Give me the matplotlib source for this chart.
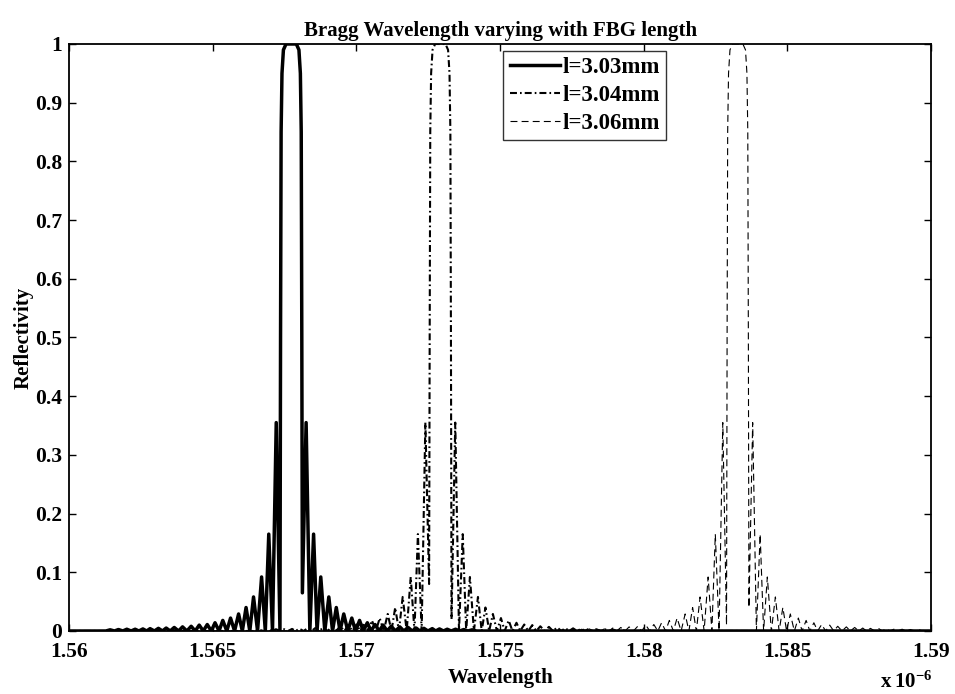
import matplotlib
matplotlib.use('Agg')
import matplotlib.pyplot as plt

plt.rcParams['font.family'] = ['Liberation Serif', 'DejaVu Serif']
plt.rcParams['font.weight'] = 'bold'
plt.rcParams['axes.labelweight'] = 'bold'
plt.rcParams['axes.titleweight'] = 'bold'
plt.rcParams['mathtext.fontset'] = 'custom'
plt.rcParams['mathtext.rm'] = 'Liberation Serif:bold'
plt.rcParams['mathtext.bf'] = 'Liberation Serif:bold'
plt.rcParams['lines.scale_dashes'] = False

# grating lengths and Bragg wavelengths (x 1e-6 m)
labels = ['l=3.03mm', 'l=3.04mm', 'l=3.06mm']
centers = [1.56773, 1.57292, 1.58327]
# reflectivity where the main lobe edge stops (left, right) - sampling
edge_floor = [(0.0, 0.065), (0.08, 0.02), (0.01, 0.04)]

# main lobe shape, offset from centre in nm
main_nm = [-0.37, -0.35, -0.32, -0.27, -0.18, 0.0, 0.18, 0.27, 0.32, 0.35, 0.37]
main_r = [0.5, 0.85, 0.95, 0.99, 1.0, 1.0, 1.0, 0.99, 0.95, 0.85, 0.5]

# side lobes (same on both sides), offset from centre in nm
lobe_pk_nm = [0.52, 0.78, 1.03, 1.31, 1.57, 1.83, 2.11, 2.38, 2.65, 2.92, 3.20,
              3.48, 3.78, 4.07, 4.35, 4.62, 4.91, 5.16, 5.43, 5.72, 6.01, 6.30]
lobe_r = [0.355, 0.165, 0.092, 0.058, 0.040, 0.029, 0.022, 0.018, 0.014, 0.011, 0.010,
          0.008, 0.007, 0.006, 0.005, 0.0045, 0.004, 0.0035, 0.003, 0.003, 0.0025, 0.002]
lobe_null_nm = [0.39, 0.65, 0.90, 1.17, 1.44, 1.70, 1.97, 2.24, 2.51, 2.78, 3.06, 3.34,
                3.63, 3.92, 4.21, 4.48, 4.76, 5.03, 5.30, 5.57, 5.86, 6.15, 6.45]

x_min, x_max = 1.56, 1.59


def spectrum(c, floors):
    xs, ys = [x_min], [0.0]
    n = len(lobe_pk_nm)
    # left side, far to near
    for k in range(n - 1, -1, -1):
        xs.append(c - lobe_null_nm[k + 1] * 1e-3); ys.append(0.0)
        xs.append(c - lobe_pk_nm[k] * 1e-3); ys.append(lobe_r[k])
    xs.append(c - lobe_null_nm[0] * 1e-3); ys.append(floors[0])
    for o, r in zip(main_nm, main_r):
        xs.append(c + o * 1e-3); ys.append(r)
    xs.append(c + lobe_null_nm[0] * 1e-3); ys.append(floors[1])
    for k in range(n):
        xs.append(c + lobe_pk_nm[k] * 1e-3); ys.append(lobe_r[k])
        xs.append(c + lobe_null_nm[k + 1] * 1e-3); ys.append(0.0)
    xs.append(x_max); ys.append(0.0)
    return xs, ys


styles = [dict(lw=2.5, linestyle='-'),
          dict(lw=1.5, dashes=(5, 2.2, 1.2, 2.2)),
          dict(lw=0.8, dashes=(5, 3))]

fig = plt.figure(figsize=(9.55, 6.94), dpi=100)
ax = fig.add_axes([0.0723, 0.0908, 0.9027, 0.8458])

for c, fl, lab, st in zip(centers, edge_floor, labels, styles):
    xs, ys = spectrum(c, fl)
    ax.plot(xs, ys, color='black', label=lab, **st)

ax.set_xlim(x_min, x_max)
ax.set_ylim(0, 1)
xt = [1.56, 1.565, 1.57, 1.575, 1.58, 1.585, 1.59]
ax.set_xticks(xt)
ax.set_xticklabels(['%g' % v for v in xt])
yt = [i / 10 for i in range(11)]
ax.set_yticks(yt)
ax.set_yticklabels(['%g' % v for v in yt])
ax.tick_params(direction='in', top=True, right=True, length=5, width=1, labelsize=15.5)
ax.tick_params(axis='x', pad=8)
ax.tick_params(axis='y', pad=5)
for s in ax.spines.values():
    s.set_linewidth(1.3)

ax.set_title('Bragg Wavelength varying with FBG length', fontsize=15, pad=6)
ax.set_xlabel('Wavelength', fontsize=15, labelpad=4)
ax.set_ylabel('Reflectivity', fontsize=15, labelpad=1)
fig.text(0.976, 0.002, r'$\mathrm{x\,10^{-6}}$', ha='right', va='bottom', fontsize=15)

leg = ax.legend(loc='upper left', bbox_to_anchor=(0.5035, 0.9886), fontsize=16.5,
                handlelength=2.2, handletextpad=0.1, labelspacing=0.3,
                borderpad=0.28, borderaxespad=0, fancybox=False, frameon=True)
leg.get_frame().set_edgecolor('black')
leg.get_frame().set_linewidth(1.0)

fig.savefig('out.png', dpi=100)
